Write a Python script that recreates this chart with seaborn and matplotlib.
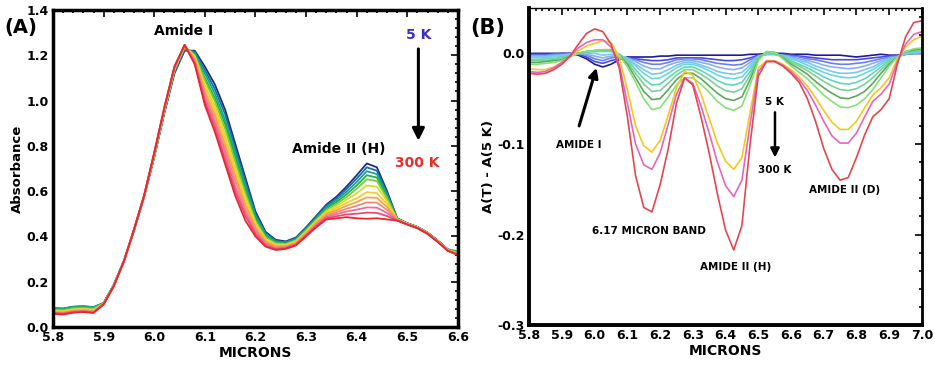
import numpy as np
import pandas as pd
import matplotlib
matplotlib.use("Agg")
import matplotlib.pyplot as plt
import seaborn as sns
from matplotlib.ticker import MultipleLocator

sns.set_style("white")
plt.rcParams["font.family"] = ["DejaVu Sans"]
plt.rcParams["font.weight"] = "bold"
plt.rcParams.update({"text.color": "black", "axes.labelcolor": "black",
                     "xtick.color": "black", "ytick.color": "black"})

# ---- Panel A: absorbance spectra, 5 K (first) to 300 K (last) ----
microns_a = np.round(np.arange(5.80, 6.601, 0.02), 2)

a01 = [0.082, 0.080, 0.088, 0.090, 0.086, 0.105, 0.185, 0.290, 0.425, 0.575, 0.750, 0.945, 1.120, 1.220,
       1.22, 1.15, 1.07, 0.96, 0.81, 0.66, 0.51, 0.42, 0.385, 0.378, 0.395,
       0.44, 0.49, 0.54, 0.575, 0.62, 0.67, 0.722, 0.705, 0.60, 0.48,
       0.458, 0.442, 0.417, 0.382, 0.342, 0.326]
a02 = [0.083, 0.081, 0.089, 0.091, 0.087, 0.106, 0.186, 0.291, 0.426, 0.576, 0.752, 0.948, 1.125, 1.225,
       1.215, 1.135, 1.05, 0.94, 0.79, 0.645, 0.50, 0.415, 0.381, 0.375, 0.392,
       0.437, 0.486, 0.535, 0.568, 0.61, 0.655, 0.705, 0.690, 0.592, 0.48,
       0.458, 0.442, 0.417, 0.382, 0.343, 0.330]
a03 = [0.084, 0.082, 0.090, 0.092, 0.088, 0.106, 0.186, 0.292, 0.427, 0.577, 0.754, 0.950, 1.130, 1.230,
       1.21, 1.12, 1.03, 0.915, 0.77, 0.625, 0.49, 0.41, 0.377, 0.372, 0.389,
       0.433, 0.481, 0.528, 0.56, 0.598, 0.64, 0.688, 0.675, 0.584, 0.478,
       0.457, 0.441, 0.416, 0.381, 0.343, 0.334]
a04 = [0.080, 0.078, 0.086, 0.088, 0.084, 0.105, 0.185, 0.292, 0.428, 0.578, 0.756, 0.952, 1.133, 1.234,
       1.205, 1.10, 1.01, 0.895, 0.75, 0.61, 0.48, 0.402, 0.373, 0.369, 0.385,
       0.43, 0.477, 0.523, 0.551, 0.586, 0.625, 0.670, 0.660, 0.576, 0.478,
       0.457, 0.441, 0.416, 0.381, 0.342, 0.332]
a05 = [0.076, 0.074, 0.082, 0.084, 0.080, 0.104, 0.184, 0.291, 0.428, 0.579, 0.758, 0.955, 1.136, 1.238,
       1.20, 1.09, 0.995, 0.875, 0.73, 0.59, 0.47, 0.396, 0.369, 0.366, 0.382,
       0.426, 0.472, 0.516, 0.543, 0.574, 0.61, 0.652, 0.644, 0.568, 0.476,
       0.456, 0.440, 0.415, 0.380, 0.341, 0.328]
a06 = [0.072, 0.070, 0.078, 0.080, 0.076, 0.103, 0.183, 0.291, 0.429, 0.580, 0.760, 0.958, 1.139, 1.240,
       1.195, 1.07, 0.975, 0.85, 0.705, 0.575, 0.46, 0.39, 0.365, 0.363, 0.379,
       0.422, 0.468, 0.51, 0.534, 0.562, 0.59, 0.625, 0.619, 0.556, 0.476,
       0.456, 0.440, 0.415, 0.380, 0.340, 0.325]
a07 = [0.070, 0.067, 0.075, 0.077, 0.073, 0.102, 0.182, 0.290, 0.429, 0.580, 0.762, 0.960, 1.141, 1.241,
       1.19, 1.06, 0.955, 0.83, 0.685, 0.555, 0.45, 0.384, 0.36, 0.36, 0.376,
       0.418, 0.463, 0.504, 0.525, 0.548, 0.568, 0.595, 0.591, 0.543, 0.474,
       0.455, 0.439, 0.414, 0.379, 0.339, 0.323]
a08 = [0.067, 0.064, 0.072, 0.074, 0.070, 0.102, 0.182, 0.290, 0.430, 0.580, 0.764, 0.962, 1.143, 1.242,
       1.185, 1.04, 0.935, 0.805, 0.665, 0.54, 0.44, 0.378, 0.356, 0.357, 0.372,
       0.414, 0.459, 0.498, 0.516, 0.535, 0.552, 0.572, 0.570, 0.530, 0.474,
       0.455, 0.439, 0.414, 0.379, 0.338, 0.322]
a09 = [0.065, 0.062, 0.070, 0.072, 0.068, 0.101, 0.181, 0.290, 0.430, 0.580, 0.766, 0.964, 1.145, 1.243,
       1.18, 1.025, 0.915, 0.785, 0.645, 0.52, 0.43, 0.372, 0.352, 0.354, 0.369,
       0.41, 0.454, 0.492, 0.507, 0.522, 0.535, 0.550, 0.549, 0.517, 0.472,
       0.454, 0.438, 0.413, 0.378, 0.338, 0.321]
a10 = [0.063, 0.060, 0.068, 0.070, 0.066, 0.101, 0.181, 0.290, 0.430, 0.580, 0.767, 0.966, 1.147, 1.244,
       1.17, 1.01, 0.90, 0.765, 0.62, 0.505, 0.42, 0.366, 0.348, 0.351, 0.366,
       0.407, 0.449, 0.486, 0.498, 0.51, 0.518, 0.528, 0.527, 0.503, 0.472,
       0.454, 0.438, 0.413, 0.378, 0.337, 0.320]
a11 = [0.061, 0.058, 0.066, 0.068, 0.064, 0.100, 0.180, 0.290, 0.430, 0.580, 0.768, 0.968, 1.149, 1.245,
       1.165, 0.995, 0.88, 0.74, 0.60, 0.49, 0.41, 0.36, 0.344, 0.348, 0.363,
       0.403, 0.445, 0.48, 0.489, 0.497, 0.50, 0.505, 0.504, 0.49, 0.47,
       0.453, 0.437, 0.412, 0.377, 0.337, 0.320]
a12 = [0.058, 0.055, 0.063, 0.066, 0.062, 0.100, 0.180, 0.290, 0.430, 0.580, 0.770, 0.970, 1.150, 1.246,
       1.16, 0.98, 0.86, 0.72, 0.58, 0.47, 0.40, 0.355, 0.34, 0.345, 0.36,
       0.40, 0.44, 0.475, 0.48, 0.485, 0.48, 0.478, 0.48, 0.475, 0.47,
       0.452, 0.436, 0.411, 0.376, 0.336, 0.318]
curves_a = [a01, a02, a03, a04, a05, a06, a07, a08, a09, a10, a11, a12]
colors_a = ["#1c2c8a", "#1b6f9c", "#14a39a", "#22b14c", "#7ccc3a", "#d8dc30",
            "#f7cc2e", "#f6a545", "#f28a78", "#ec6d96", "#e64a7a", "#e8282a"]

# ---- Panel B: difference spectra A(T) - A(5 K) ----
microns_b = np.round(np.arange(5.80, 7.001, 0.025), 3)

b01 = [0.000, 0.000, 0.000, 0.000, 0.000, 0.000, -0.002, -0.006, -0.012, -0.015, -0.012, -0.007, -0.004,
       -0.004, -0.004, -0.004, -0.003, -0.003, -0.002, -0.002, -0.002, -0.002, -0.002, -0.002, -0.002,
       -0.002, -0.002, -0.001, -0.001, 0.000, 0.000, 0.000, -0.001, -0.001, -0.001, -0.002, -0.002,
       -0.002, -0.002, -0.003, -0.004, -0.003, -0.002, -0.001, -0.002, -0.002, -0.001, 0.000, 0.000]
b02 = [-0.001, -0.001, -0.001, -0.001, 0.000, 0.000, -0.001, -0.004, -0.009, -0.011, -0.008, -0.006, -0.006,
       -0.006, -0.007, -0.008, -0.008, -0.007, -0.005, -0.005, -0.005, -0.005, -0.006, -0.007, -0.008,
       -0.008, -0.007, -0.005, -0.002, -0.001, -0.001, -0.001, -0.002, -0.003, -0.004, -0.005, -0.006,
       -0.007, -0.007, -0.007, -0.007, -0.006, -0.005, -0.004, -0.003, -0.002, -0.001, 0.000, 0.000]
b03 = [-0.002, -0.002, -0.002, -0.001, -0.001, 0.000, 0.000, -0.002, -0.006, -0.008, -0.005, -0.004, -0.005,
       -0.007, -0.010, -0.012, -0.012, -0.010, -0.007, -0.006, -0.006, -0.007, -0.009, -0.011, -0.012,
       -0.013, -0.012, -0.007, -0.003, -0.001, -0.001, -0.002, -0.003, -0.004, -0.006, -0.007, -0.009,
       -0.011, -0.012, -0.012, -0.011, -0.010, -0.008, -0.006, -0.004, -0.003, -0.001, 0.000, 0.000]
b04 = [-0.003, -0.003, -0.003, -0.002, -0.002, -0.001, 0.000, -0.001, -0.003, -0.005, -0.003, -0.003, -0.005,
       -0.009, -0.014, -0.017, -0.017, -0.013, -0.010, -0.008, -0.008, -0.010, -0.012, -0.015, -0.017,
       -0.018, -0.016, -0.010, -0.003, -0.001, -0.001, -0.002, -0.004, -0.006, -0.008, -0.010, -0.013,
       -0.015, -0.016, -0.017, -0.016, -0.014, -0.011, -0.008, -0.005, -0.004, -0.001, 0.000, 0.001]
b05 = [-0.004, -0.004, -0.004, -0.003, -0.002, -0.001, 0.000, 0.000, 0.000, -0.002, -0.001, -0.002, -0.006,
       -0.012, -0.018, -0.023, -0.022, -0.018, -0.013, -0.010, -0.010, -0.013, -0.016, -0.020, -0.022,
       -0.023, -0.021, -0.013, -0.004, -0.001, -0.001, -0.003, -0.005, -0.008, -0.010, -0.014, -0.017,
       -0.020, -0.022, -0.022, -0.021, -0.018, -0.015, -0.010, -0.006, -0.004, 0.000, 0.001, 0.001]
b06 = [-0.005, -0.005, -0.005, -0.004, -0.003, -0.002, 0.000, 0.001, 0.002, 0.002, 0.002, -0.001, -0.007,
       -0.014, -0.022, -0.028, -0.027, -0.022, -0.016, -0.012, -0.012, -0.015, -0.019, -0.024, -0.027,
       -0.028, -0.026, -0.016, -0.004, 0.000, -0.001, -0.003, -0.006, -0.009, -0.013, -0.017, -0.021,
       -0.024, -0.026, -0.027, -0.026, -0.022, -0.018, -0.012, -0.007, -0.004, 0.000, 0.001, 0.002]
b07 = [-0.007, -0.007, -0.006, -0.006, -0.004, -0.002, 0.000, 0.002, 0.003, 0.003, 0.003, -0.001, -0.008,
       -0.018, -0.028, -0.035, -0.034, -0.027, -0.020, -0.015, -0.015, -0.019, -0.024, -0.030, -0.034,
       -0.035, -0.032, -0.020, -0.004, 0.001, 0.000, -0.003, -0.008, -0.012, -0.016, -0.021, -0.026,
       -0.030, -0.033, -0.034, -0.032, -0.028, -0.022, -0.015, -0.008, -0.004, 0.001, 0.002, 0.003]
b08 = [-0.008, -0.008, -0.008, -0.007, -0.005, -0.003, 0.000, 0.002, 0.003, 0.004, 0.003, -0.001, -0.010,
       -0.022, -0.034, -0.042, -0.041, -0.033, -0.024, -0.018, -0.018, -0.023, -0.029, -0.036, -0.041,
       -0.043, -0.039, -0.024, -0.005, 0.001, 0.001, -0.004, -0.010, -0.014, -0.019, -0.025, -0.031,
       -0.036, -0.040, -0.041, -0.039, -0.034, -0.027, -0.018, -0.010, -0.004, 0.001, 0.003, 0.004]
b09 = [-0.010, -0.010, -0.009, -0.008, -0.007, -0.003, 0.000, 0.002, 0.003, 0.004, 0.004, -0.002, -0.012,
       -0.027, -0.042, -0.051, -0.050, -0.040, -0.029, -0.022, -0.022, -0.028, -0.036, -0.044, -0.050,
       -0.052, -0.048, -0.029, -0.007, 0.002, 0.001, -0.005, -0.012, -0.017, -0.023, -0.031, -0.038,
       -0.044, -0.049, -0.050, -0.047, -0.042, -0.033, -0.022, -0.012, -0.004, 0.002, 0.004, 0.005]
b10 = [-0.012, -0.012, -0.011, -0.010, -0.008, -0.004, 0.000, 0.002, 0.003, 0.004, 0.004, -0.002, -0.015,
       -0.032, -0.050, -0.062, -0.060, -0.048, -0.035, -0.027, -0.027, -0.034, -0.043, -0.053, -0.060,
       -0.063, -0.058, -0.035, -0.008, 0.002, 0.001, -0.006, -0.014, -0.021, -0.028, -0.037, -0.046,
       -0.053, -0.059, -0.060, -0.057, -0.050, -0.040, -0.027, -0.014, -0.004, 0.002, 0.005, 0.006]
b11 = [-0.017, -0.018, -0.018, -0.015, -0.010, -0.004, 0.003, 0.008, 0.011, 0.014, 0.012, -0.004, -0.040,
       -0.080, -0.102, -0.109, -0.096, -0.068, -0.038, -0.020, -0.024, -0.045, -0.072, -0.099, -0.119,
       -0.128, -0.115, -0.065, -0.016, -0.008, -0.008, -0.012, -0.018, -0.026, -0.036, -0.049, -0.063,
       -0.076, -0.084, -0.084, -0.075, -0.060, -0.046, -0.038, -0.027, -0.006, 0.007, 0.015, 0.019]
b12 = [-0.020, -0.021, -0.020, -0.016, -0.010, -0.003, 0.006, 0.012, 0.015, 0.015, 0.007, -0.012, -0.055,
       -0.100, -0.123, -0.128, -0.110, -0.078, -0.045, -0.027, -0.033, -0.058, -0.088, -0.120, -0.146,
       -0.158, -0.140, -0.078, -0.020, -0.009, -0.009, -0.013, -0.020, -0.029, -0.041, -0.057, -0.075,
       -0.091, -0.099, -0.099, -0.088, -0.070, -0.053, -0.045, -0.034, -0.009, 0.010, 0.021, 0.024]
b13 = [-0.022, -0.023, -0.022, -0.018, -0.012, -0.003, 0.010, 0.022, 0.027, 0.024, 0.010, -0.016, -0.070,
       -0.135, -0.170, -0.175, -0.145, -0.105, -0.055, -0.027, -0.035, -0.070, -0.110, -0.155, -0.195,
       -0.217, -0.190, -0.100, -0.025, -0.009, -0.009, -0.014, -0.022, -0.032, -0.050, -0.075, -0.105,
       -0.128, -0.140, -0.137, -0.115, -0.090, -0.070, -0.062, -0.050, -0.012, 0.018, 0.034, 0.036]
curves_b = [b01, b02, b03, b04, b05, b06, b07, b08, b09, b10, b11, b12, b13]
colors_b = ["#1a1a9c", "#4a4adc", "#6b7ff0", "#8aaef5", "#7cc6f0", "#6ad6e0", "#5fd8b4",
            "#7ccf96", "#5ea85e", "#86e07a", "#f5c81e", "#e466c0", "#e04850"]


def long_form(x, curves, ycol):
    frames = [pd.DataFrame({"micron": x, ycol: c, "curve": i}) for i, c in enumerate(curves)]
    return pd.concat(frames, ignore_index=True)


def style_axes(ax, lw_spines):
    ax.tick_params(which="both", direction="in", top=True, right=True,
                   labelsize=9, width=1.2, pad=3, colors="black")
    ax.tick_params(which="major", length=5)
    ax.tick_params(which="minor", length=2.5)
    for side, lw in lw_spines.items():
        ax.spines[side].set_linewidth(lw)
        ax.spines[side].set_color("black")
    for lab in ax.get_xticklabels() + ax.get_yticklabels():
        lab.set_fontweight("bold")


fig = plt.figure(figsize=(9.35, 3.67), dpi=100)
ax_a = fig.add_axes([0.0567, 0.109, 0.433, 0.864])
ax_b = fig.add_axes([0.566, 0.114, 0.420, 0.864])

# Panel A
df_a = long_form(microns_a, curves_a, "absorbance")
sns.lineplot(data=df_a, x="micron", y="absorbance", hue="curve", palette=colors_a,
             estimator=None, legend=False, linewidth=1.3, ax=ax_a)
ax_a.set_xlim(5.8, 6.6)
ax_a.set_ylim(0, 1.4)
ax_a.xaxis.set_major_locator(MultipleLocator(0.1))
ax_a.xaxis.set_minor_locator(MultipleLocator(0.02))
ax_a.yaxis.set_major_locator(MultipleLocator(0.2))
ax_a.yaxis.set_minor_locator(MultipleLocator(0.04))
ax_a.xaxis.set_major_formatter(plt.FormatStrFormatter("%.1f"))
ax_a.yaxis.set_major_formatter(plt.FormatStrFormatter("%.1f"))
ax_a.set_xlabel("MICRONS", fontsize=10, fontweight="bold", labelpad=1)
ax_a.set_ylabel("Absorbance", fontsize=9.5, fontweight="bold", labelpad=2)
style_axes(ax_a, {"left": 2.5, "bottom": 2.5, "top": 2.5, "right": 2.5})

ax_a.text(6.058, 1.305, "Amide I", ha="center", va="center", fontsize=10, fontweight="bold")
ax_a.text(6.365, 0.785, "Amide II (H)", ha="center", va="center", fontsize=10, fontweight="bold")
ax_a.text(6.522, 1.29, "5 K", ha="center", va="center", fontsize=10, fontweight="bold", color="#3b2fc4")
ax_a.text(6.52, 0.725, "300 K", ha="center", va="center", fontsize=10, fontweight="bold", color="#e8302a")
ax_a.annotate("", xy=(6.522, 0.81), xytext=(6.522, 1.24),
              arrowprops=dict(arrowstyle="-|>", color="black", lw=2.2, mutation_scale=18))
fig.text(0.022, 0.925, "(A)", ha="center", va="center", fontsize=14, fontweight="bold")

# Panel B
df_b = long_form(microns_b, curves_b, "delta")
sns.lineplot(data=df_b, x="micron", y="delta", hue="curve", palette=colors_b,
             estimator=None, legend=False, linewidth=1.2, ax=ax_b)
ax_b.set_xlim(5.8, 7.0)
ax_b.set_ylim(-0.3, 0.05)
ax_b.xaxis.set_major_locator(MultipleLocator(0.1))
ax_b.xaxis.set_minor_locator(MultipleLocator(0.02))
ax_b.yaxis.set_major_locator(MultipleLocator(0.1))
ax_b.yaxis.set_minor_locator(MultipleLocator(0.02))
ax_b.xaxis.set_major_formatter(plt.FormatStrFormatter("%.1f"))
ax_b.yaxis.set_major_formatter(plt.FormatStrFormatter("%.1f"))
ax_b.set_xlabel("MICRONS", fontsize=10, fontweight="bold", labelpad=1)
ax_b.set_ylabel("A(T) - A(5 K)", fontsize=9.5, fontweight="bold", labelpad=2)
style_axes(ax_b, {"left": 2.8, "bottom": 2.8, "top": 1.0, "right": 2.0})

ax_b.text(5.95, -0.101, "AMIDE I", ha="center", va="center", fontsize=7.5, fontweight="bold")
ax_b.annotate("", xy=(6.008, -0.013), xytext=(5.95, -0.083),
              arrowprops=dict(arrowstyle="-|>", color="black", lw=2.2, mutation_scale=14))
ax_b.text(6.165, -0.196, "6.17 MICRON BAND", ha="center", va="center", fontsize=7.5, fontweight="bold")
ax_b.text(6.43, -0.236, "AMIDE II (H)", ha="center", va="center", fontsize=7.5, fontweight="bold")
ax_b.text(6.765, -0.151, "AMIDE II (D)", ha="center", va="center", fontsize=7.5, fontweight="bold")
ax_b.text(6.548, -0.054, "5 K", ha="center", va="center", fontsize=7.5, fontweight="bold")
ax_b.text(6.551, -0.129, "300 K", ha="center", va="center", fontsize=7.5, fontweight="bold")
ax_b.annotate("", xy=(6.551, -0.118), xytext=(6.551, -0.062),
              arrowprops=dict(arrowstyle="-|>", color="black", lw=1.8, mutation_scale=13))
fig.text(0.522, 0.925, "(B)", ha="center", va="center", fontsize=15, fontweight="bold")

fig.savefig("out.png", dpi=100)
